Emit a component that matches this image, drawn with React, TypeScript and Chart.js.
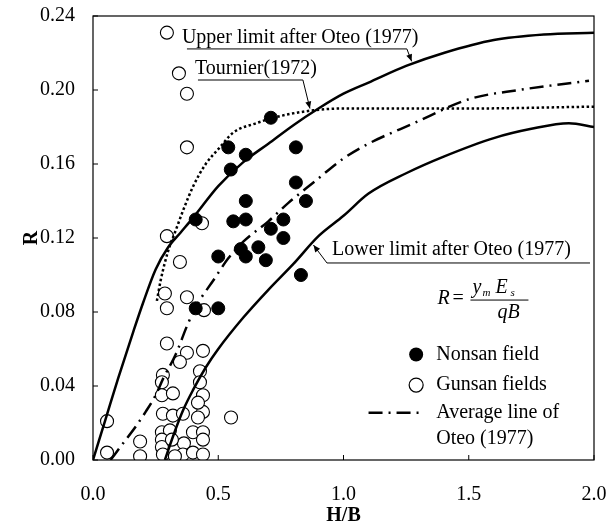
import React, { useEffect, useRef } from "react";
import { Chart, registerables } from "chart.js";

Chart.register(...registerables);

// ---- tick values ----
const xTickValues = [0, 0.5, 1.0, 1.5, 2.0];
const yTickValues = [0, 0.04, 0.08, 0.12, 0.16, 0.2, 0.24];

// ---- Nonsan field (filled) ----
const nonsanX = [0.41, 0.5, 0.41, 0.5, 0.54, 0.55, 0.56, 0.59, 0.61, 0.61, 0.61, 0.61, 0.66, 0.69, 0.71, 0.71, 0.76, 0.76, 0.81, 0.81, 0.85, 0.83];
const nonsanY = [0.082, 0.082, 0.13, 0.11, 0.169, 0.157, 0.129, 0.114, 0.165, 0.14, 0.13, 0.11, 0.115, 0.108, 0.185, 0.125, 0.13, 0.12, 0.169, 0.15, 0.14, 0.1];

// ---- Gunsan fields (open) ----
const gunsanX = [0.295, 0.343, 0.375, 0.375, 0.435, 0.295, 0.347, 0.287, 0.375, 0.295, 0.443, 0.295, 0.375, 0.347, 0.439, 0.279, 0.275, 0.427, 0.427, 0.275, 0.319, 0.439, 0.439, 0.419, 0.279, 0.319, 0.359, 0.419, 0.551, 0.056, 0.275, 0.307, 0.275, 0.188, 0.399, 0.439, 0.439, 0.363, 0.275, 0.315, 0.279, 0.359, 0.399, 0.439, 0.188, 0.056, 0.327];
const gunsanY = [0.231, 0.209, 0.198, 0.169, 0.128, 0.121, 0.107, 0.09, 0.088, 0.082, 0.081, 0.063, 0.058, 0.053, 0.059, 0.046, 0.042, 0.048, 0.042, 0.035, 0.036, 0.035, 0.026, 0.031, 0.025, 0.024, 0.025, 0.023, 0.023, 0.021, 0.015, 0.016, 0.011, 0.01, 0.015, 0.015, 0.011, 0.009, 0.007, 0.011, 0.003, 0.003, 0.004, 0.003, 0.002, 0.004, 0.002];

// ---- Upper limit after Oteo (1977) ----
const upperX = [0, 0.05, 0.1, 0.16, 0.2, 0.25, 0.3, 0.35, 0.4, 0.5, 0.6, 0.7, 0.8, 0.9, 1.0, 1.1, 1.25, 1.4, 1.6, 1.8, 2.0];
const upperY = [0, 0.022, 0.044, 0.069, 0.085, 0.103, 0.115, 0.123, 0.131, 0.148, 0.161, 0.171, 0.181, 0.19, 0.198, 0.204, 0.213, 0.22, 0.227, 0.23, 0.231];

// ---- Tournier (1972) ----
const tournierX = [0.255, 0.27, 0.3, 0.33, 0.36, 0.4, 0.45, 0.5, 0.56, 0.65, 0.75, 0.88, 1.0, 1.5, 2.0];
const tournierY = [0.086, 0.097, 0.113, 0.124, 0.135, 0.148, 0.16, 0.168, 0.177, 0.182, 0.186, 0.189, 0.19, 0.19, 0.191];

// ---- Average line of Oteo (1977) ----
const avgX = [0.07, 0.12, 0.17, 0.21, 0.25, 0.28, 0.33, 0.38, 0.42, 0.48, 0.54, 0.6, 0.7, 0.78, 0.88, 1.0, 1.1, 1.28, 1.5, 1.7, 1.98];
const avgY = [0, 0.009, 0.018, 0.026, 0.035, 0.044, 0.057, 0.074, 0.085, 0.097, 0.109, 0.118, 0.129, 0.139, 0.15, 0.163, 0.171, 0.182, 0.195, 0.2, 0.205];

// ---- Lower limit after Oteo (1977) ----
const lowerX = [0.287, 0.32, 0.36, 0.4, 0.45, 0.5, 0.6, 0.7, 0.8, 0.9, 1.0, 1.1, 1.25, 1.4, 1.6, 1.75, 1.9, 2.0];
const lowerY = [0, 0.013, 0.027, 0.038, 0.05, 0.06, 0.077, 0.092, 0.106, 0.121, 0.132, 0.144, 0.155, 0.164, 0.174, 0.179, 0.182, 0.18];

const SERIF = "'Liberation Serif', 'DejaVu Serif', serif";

const pts = (xs: number[], ys: number[]) => xs.map((x, i) => ({ x, y: ys[i] }));

const framePlugin = {
  id: "frameAndTicks",
  afterDatasetsDraw(chart: any) {
    const { ctx, chartArea: a, scales } = chart;
    ctx.save();
    ctx.strokeStyle = "#000";
    ctx.lineWidth = 1.2;
    ctx.strokeRect(a.left, a.top, a.right - a.left, a.bottom - a.top);
    ctx.lineWidth = 1;
    const tl = 5;
    xTickValues.forEach((v) => {
      const px = scales.x.getPixelForValue(v);
      ctx.beginPath();
      ctx.moveTo(px, a.bottom);
      ctx.lineTo(px, a.bottom - tl);
      ctx.stroke();
    });
    yTickValues.forEach((v) => {
      const py = scales.y.getPixelForValue(v);
      ctx.beginPath();
      ctx.moveTo(a.left, py);
      ctx.lineTo(a.left + tl, py);
      ctx.stroke();
    });
    ctx.restore();
  },
};

function arrow(ctx: CanvasRenderingContext2D, x1: number, y1: number, x2: number, y2: number) {
  ctx.beginPath();
  ctx.moveTo(x1, y1);
  ctx.lineTo(x2, y2);
  ctx.stroke();
  const ang = Math.atan2(y2 - y1, x2 - x1);
  const L = 7, W = 3;
  ctx.beginPath();
  ctx.moveTo(x2, y2);
  ctx.lineTo(x2 - L * Math.cos(ang) + W * Math.sin(ang), y2 - L * Math.sin(ang) - W * Math.cos(ang));
  ctx.lineTo(x2 - L * Math.cos(ang) - W * Math.sin(ang), y2 - L * Math.sin(ang) + W * Math.cos(ang));
  ctx.closePath();
  ctx.fill();
}

const annotationPlugin = {
  id: "annotations",
  afterDatasetsDraw(chart: any) {
    const { ctx, scales } = chart;
    const X = (v: number) => scales.x.getPixelForValue(v);
    const Y = (v: number) => scales.y.getPixelForValue(v);
    ctx.save();
    ctx.fillStyle = "#000";
    ctx.strokeStyle = "#000";
    ctx.lineWidth = 1;
    ctx.font = `20px ${SERIF}`;
    ctx.textBaseline = "middle";
    ctx.textAlign = "left";

    // Upper limit label
    ctx.fillText("Upper limit after Oteo (1977)", X(0.355), Y(0.2285));
    ctx.beginPath();
    ctx.moveTo(X(0.375), Y(0.2222));
    ctx.lineTo(X(1.253), Y(0.2222));
    ctx.stroke();
    arrow(ctx, X(1.253), Y(0.2222), X(1.272), Y(0.2155));

    // Tournier label
    ctx.fillText("Tournier(1972)", X(0.407), Y(0.2117));
    ctx.beginPath();
    ctx.moveTo(X(0.419), Y(0.2054));
    ctx.lineTo(X(0.838), Y(0.2054));
    ctx.stroke();
    arrow(ctx, X(0.838), Y(0.2054), X(0.866), Y(0.19));

    // Lower limit label
    ctx.fillText("Lower limit after Oteo (1977)", X(0.954), Y(0.1135));
    ctx.beginPath();
    ctx.moveTo(X(0.934), Y(0.1065));
    ctx.lineTo(X(1.984), Y(0.1065));
    ctx.stroke();
    arrow(ctx, X(0.934), Y(0.1065), X(0.88), Y(0.1162));

    // Formula
    const fx = X(1.375);
    const fy = Y(0.087);
    ctx.font = `italic 20px ${SERIF}`;
    ctx.fillText("R", fx, fy);
    ctx.font = `20px ${SERIF}`;
    ctx.fillText("=", fx + 15, fy);
    const bx = fx + 33;
    ctx.beginPath();
    ctx.lineWidth = 1;
    ctx.moveTo(bx, fy + 1);
    ctx.lineTo(bx + 58, fy + 1);
    ctx.stroke();
    ctx.font = `italic 20px ${SERIF}`;
    ctx.fillText("y", bx + 2, fy - 11);
    ctx.fillText("E", bx + 25, fy - 11);
    ctx.fillText("q", bx + 27, fy + 14);
    ctx.fillText("B", bx + 37, fy + 14);
    ctx.font = `italic 11px ${SERIF}`;
    ctx.fillText("m", bx + 12, fy - 6);
    ctx.fillText("s", bx + 40, fy - 6);

    // Legend entries
    ctx.font = `20px ${SERIF}`;
    const mx = X(1.29);
    const tx = X(1.37);
    const y1 = Y(0.057);
    const y2 = Y(0.0405);
    const y3 = Y(0.0255);
    const y4 = Y(0.0115);
    ctx.beginPath();
    ctx.arc(mx, y1, 7, 0, Math.PI * 2);
    ctx.fill();
    ctx.fillText("Nonsan field", tx, y1);
    ctx.beginPath();
    ctx.fillStyle = "#fff";
    ctx.arc(mx, y2, 7, 0, Math.PI * 2);
    ctx.fill();
    ctx.lineWidth = 1.2;
    ctx.stroke();
    ctx.fillStyle = "#000";
    ctx.fillText("Gunsan fields", tx, y2);
    ctx.beginPath();
    ctx.lineWidth = 2.5;
    ctx.setLineDash([14, 6, 2, 6]);
    ctx.moveTo(X(1.1), y3);
    ctx.lineTo(X(1.32), y3);
    ctx.stroke();
    ctx.setLineDash([]);
    ctx.fillText("Average line of", tx, y3);
    ctx.fillText("Oteo (1977)", tx, y4);
    ctx.restore();
  },
};

const zeroPad = (s: any) => {
  s.paddingTop = 0;
  s.paddingBottom = 0;
  s.paddingLeft = 0;
  s.paddingRight = 0;
};

export default function App() {
  const canvasRef = useRef<HTMLCanvasElement | null>(null);

  useEffect(() => {
    if (!canvasRef.current) return;
    const lineBase = {
      type: "line" as const,
      showLine: true,
      pointRadius: 0,
      pointHoverRadius: 0,
      borderColor: "#000",
      borderWidth: 2.5,
      fill: false,
      cubicInterpolationMode: "monotone" as const,
      order: 1,
    };
    const chart = new Chart(canvasRef.current, {
      type: "scatter",
      data: {
        datasets: [
          {
            label: "Nonsan field",
            data: pts(nonsanX, nonsanY),
            pointRadius: 6.5,
            pointBackgroundColor: "#000",
            pointBorderColor: "#000",
            pointBorderWidth: 1,
            order: 0,
          },
          { ...lineBase, label: "Upper limit after Oteo (1977)", data: pts(upperX, upperY) },
          { ...lineBase, label: "Tournier (1972)", data: pts(tournierX, tournierY), borderDash: [2.5, 2.5] },
          { ...lineBase, label: "Average line of Oteo (1977)", data: pts(avgX, avgY), borderDash: [14, 6, 2, 6] },
          { ...lineBase, label: "Lower limit after Oteo (1977)", data: pts(lowerX, lowerY) },
          {
            label: "Gunsan fields",
            data: pts(gunsanX, gunsanY),
            pointRadius: 6.5,
            pointBackgroundColor: "#fff",
            pointBorderColor: "#000",
            pointBorderWidth: 1.1,
            order: 2,
          },
        ] as any,
      },
      options: {
        animation: false,
        responsive: true,
        maintainAspectRatio: false,
        events: [],
        layout: { padding: { left: 0, top: 16, right: 22, bottom: 0 } },
        plugins: { legend: { display: false }, tooltip: { enabled: false } },
        scales: {
          x: {
            type: "linear",
            min: 0,
            max: 2.0,
            grid: { display: false },
            border: { display: false },
            ticks: {
              stepSize: 0.5,
              padding: 15,
              color: "#000",
              font: { family: SERIF, size: 20 },
              callback: (v: any) => Number(v).toFixed(1),
            },
            title: {
              display: true,
              text: "H/B",
              color: "#000",
              font: { family: SERIF, size: 20, weight: "bold" },
              padding: { top: 0, bottom: 0 },
            },
            afterFit: (s: any) => {
              s.height = 68;
              zeroPad(s);
            },
          },
          y: {
            type: "linear",
            min: 0,
            max: 0.24,
            grid: { display: false },
            border: { display: false },
            ticks: {
              stepSize: 0.04,
              padding: 10,
              color: "#000",
              font: { family: SERIF, size: 20 },
              callback: (v: any) => Number(v).toFixed(2),
            },
            title: {
              display: true,
              text: "R",
              color: "#000",
              font: { family: SERIF, size: 20, weight: "bold" },
              padding: { top: 20, bottom: 0 },
            },
            afterFit: (s: any) => {
              s.width = 93;
              zeroPad(s);
            },
          },
        },
      },
      plugins: [framePlugin, annotationPlugin],
    });
    return () => chart.destroy();
  }, []);

  return (
    <div style={{ position: "fixed", left: 0, top: 0, width: 616, height: 528, background: "#fff" }}>
      <canvas ref={canvasRef} />
    </div>
  );
}
